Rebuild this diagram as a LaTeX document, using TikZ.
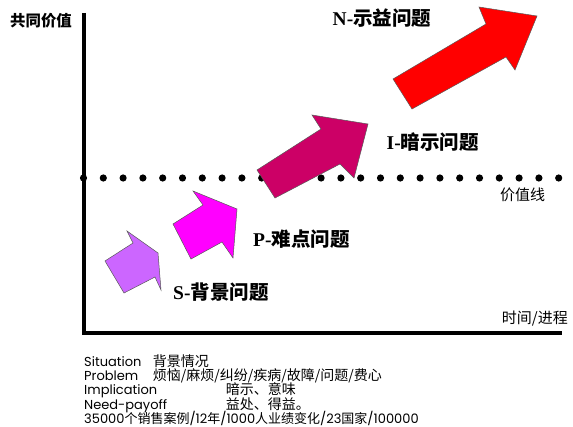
\documentclass[tikz,border=0pt]{standalone}
\usepackage{fontspec}
\setmainfont{Poppins}
\newfontfamily\cjkf{Noto Sans CJK SC}
\newfontfamily\serff{Liberation Serif}
\newfontfamily\latf{Poppins}
\definecolor{lav}{HTML}{CC66FF}
\definecolor{mag}{HTML}{FF00FF}
\definecolor{crim}{HTML}{CC0066}
\definecolor{rred}{HTML}{FF0000}
\begin{document}
\begin{tikzpicture}[x=1pt,y=-1pt,
  blockarrow/.style={draw=black!65, line width=0.5pt, line join=miter},
  biglabel/.style={anchor=base west, inner sep=0pt, font=\fontsize{19.5}{20}\selectfont},
  cjklabel/.style={anchor=west, inner sep=0pt},
  bottomtext/.style={anchor=base west, inner sep=0pt, font=\fontsize{13}{14}\selectfont},
  bottomcjk/.style={anchor=base west, inner sep=0pt, font=\cjkf\fontsize{14}{15}\selectfont},
  valdot/.style={fill=black}]
\useasboundingbox (0,0) rectangle (573,427);
% axes
\coordinate (ytop) at (84,13);
\coordinate (origin) at (84,333);
\coordinate (xend) at (562,333);
\draw[line width=4pt, line join=miter] (ytop) -- (origin) -- (xend);
% value line dots
\foreach \k in {0,...,24} {
  \fill[valdot] (83.5+19.8*\k,178) circle[radius=3.6];
}
% arrows
\draw[blockarrow, fill=lav] (105,261) -- (124,293) -- (155,277) -- (161,290) -- (158,253) -- (127,231) -- (133,243) -- cycle;
\draw[blockarrow, fill=mag] (173,224) -- (191,259) -- (222,242) -- (233,258) -- (237,209) -- (193,191) -- (203,205) -- cycle;
\draw[blockarrow, fill=crim] (257,170) -- (275,198) -- (340,164) -- (354,178) -- (368,124) -- (312,115) -- (321,129) -- cycle;
\draw[blockarrow, fill=rred] (393,79) -- (412,109) -- (506,57) -- (515,70) -- (537,16) -- (479,7) -- (486,24) -- cycle;
% labels
\node[cjklabel, font=\cjkf\bfseries\fontsize{15.4}{16}\selectfont] (yl) at (10,20.5) {共同价值};
\node[biglabel] (nq) at (332.5,26) {{\serff\bfseries N-}{\cjkf\bfseries 示益问题}};
\node[biglabel] (iq) at (386.5,149.3) {{\serff\bfseries I-}{\cjkf\bfseries 暗示问题}};
\node[biglabel] (pq) at (253,246.7) {{\serff\bfseries P-}{\cjkf\bfseries 难点问题}};
\node[biglabel] (sq) at (173,299.3) {{\serff\bfseries S-}{\cjkf\bfseries 背景问题}};
\node[cjklabel, font=\cjkf\fontsize{15}{16}\selectfont] (vl) at (500,195) {价值线};
\node[cjklabel, font=\cjkf\fontsize{15}{16}\selectfont] (xl) at (501.7,318.3) {时间/进程};
% bottom block
\node[bottomtext] (s1) at (84,366.5) {Situation};
\node[bottomcjk] (s2) at (152.7,366.5) {背景情况};
\node[bottomtext] (p1) at (84,380.7) {Problem};
\node[bottomcjk] (p2) at (152.7,380.7) {烦恼/麻烦/纠纷/疾病/故障/问题/费心};
\node[bottomtext] (i1) at (84,394.9) {Implication};
\node[bottomcjk] (i2) at (225.7,394.9) {暗示、意味};
\node[bottomtext] (n1) at (84,409.1) {Need-payoff};
\node[bottomcjk] (n2) at (225.7,409.1) {益处、得益。};
\node[bottomtext] (l5) at (84,423.3) {35000{\cjkf 个销售案例}/12{\cjkf 年}/1000{\cjkf 人业绩变化}/23{\cjkf 国家}/100000};
\end{tikzpicture}
\end{document}
